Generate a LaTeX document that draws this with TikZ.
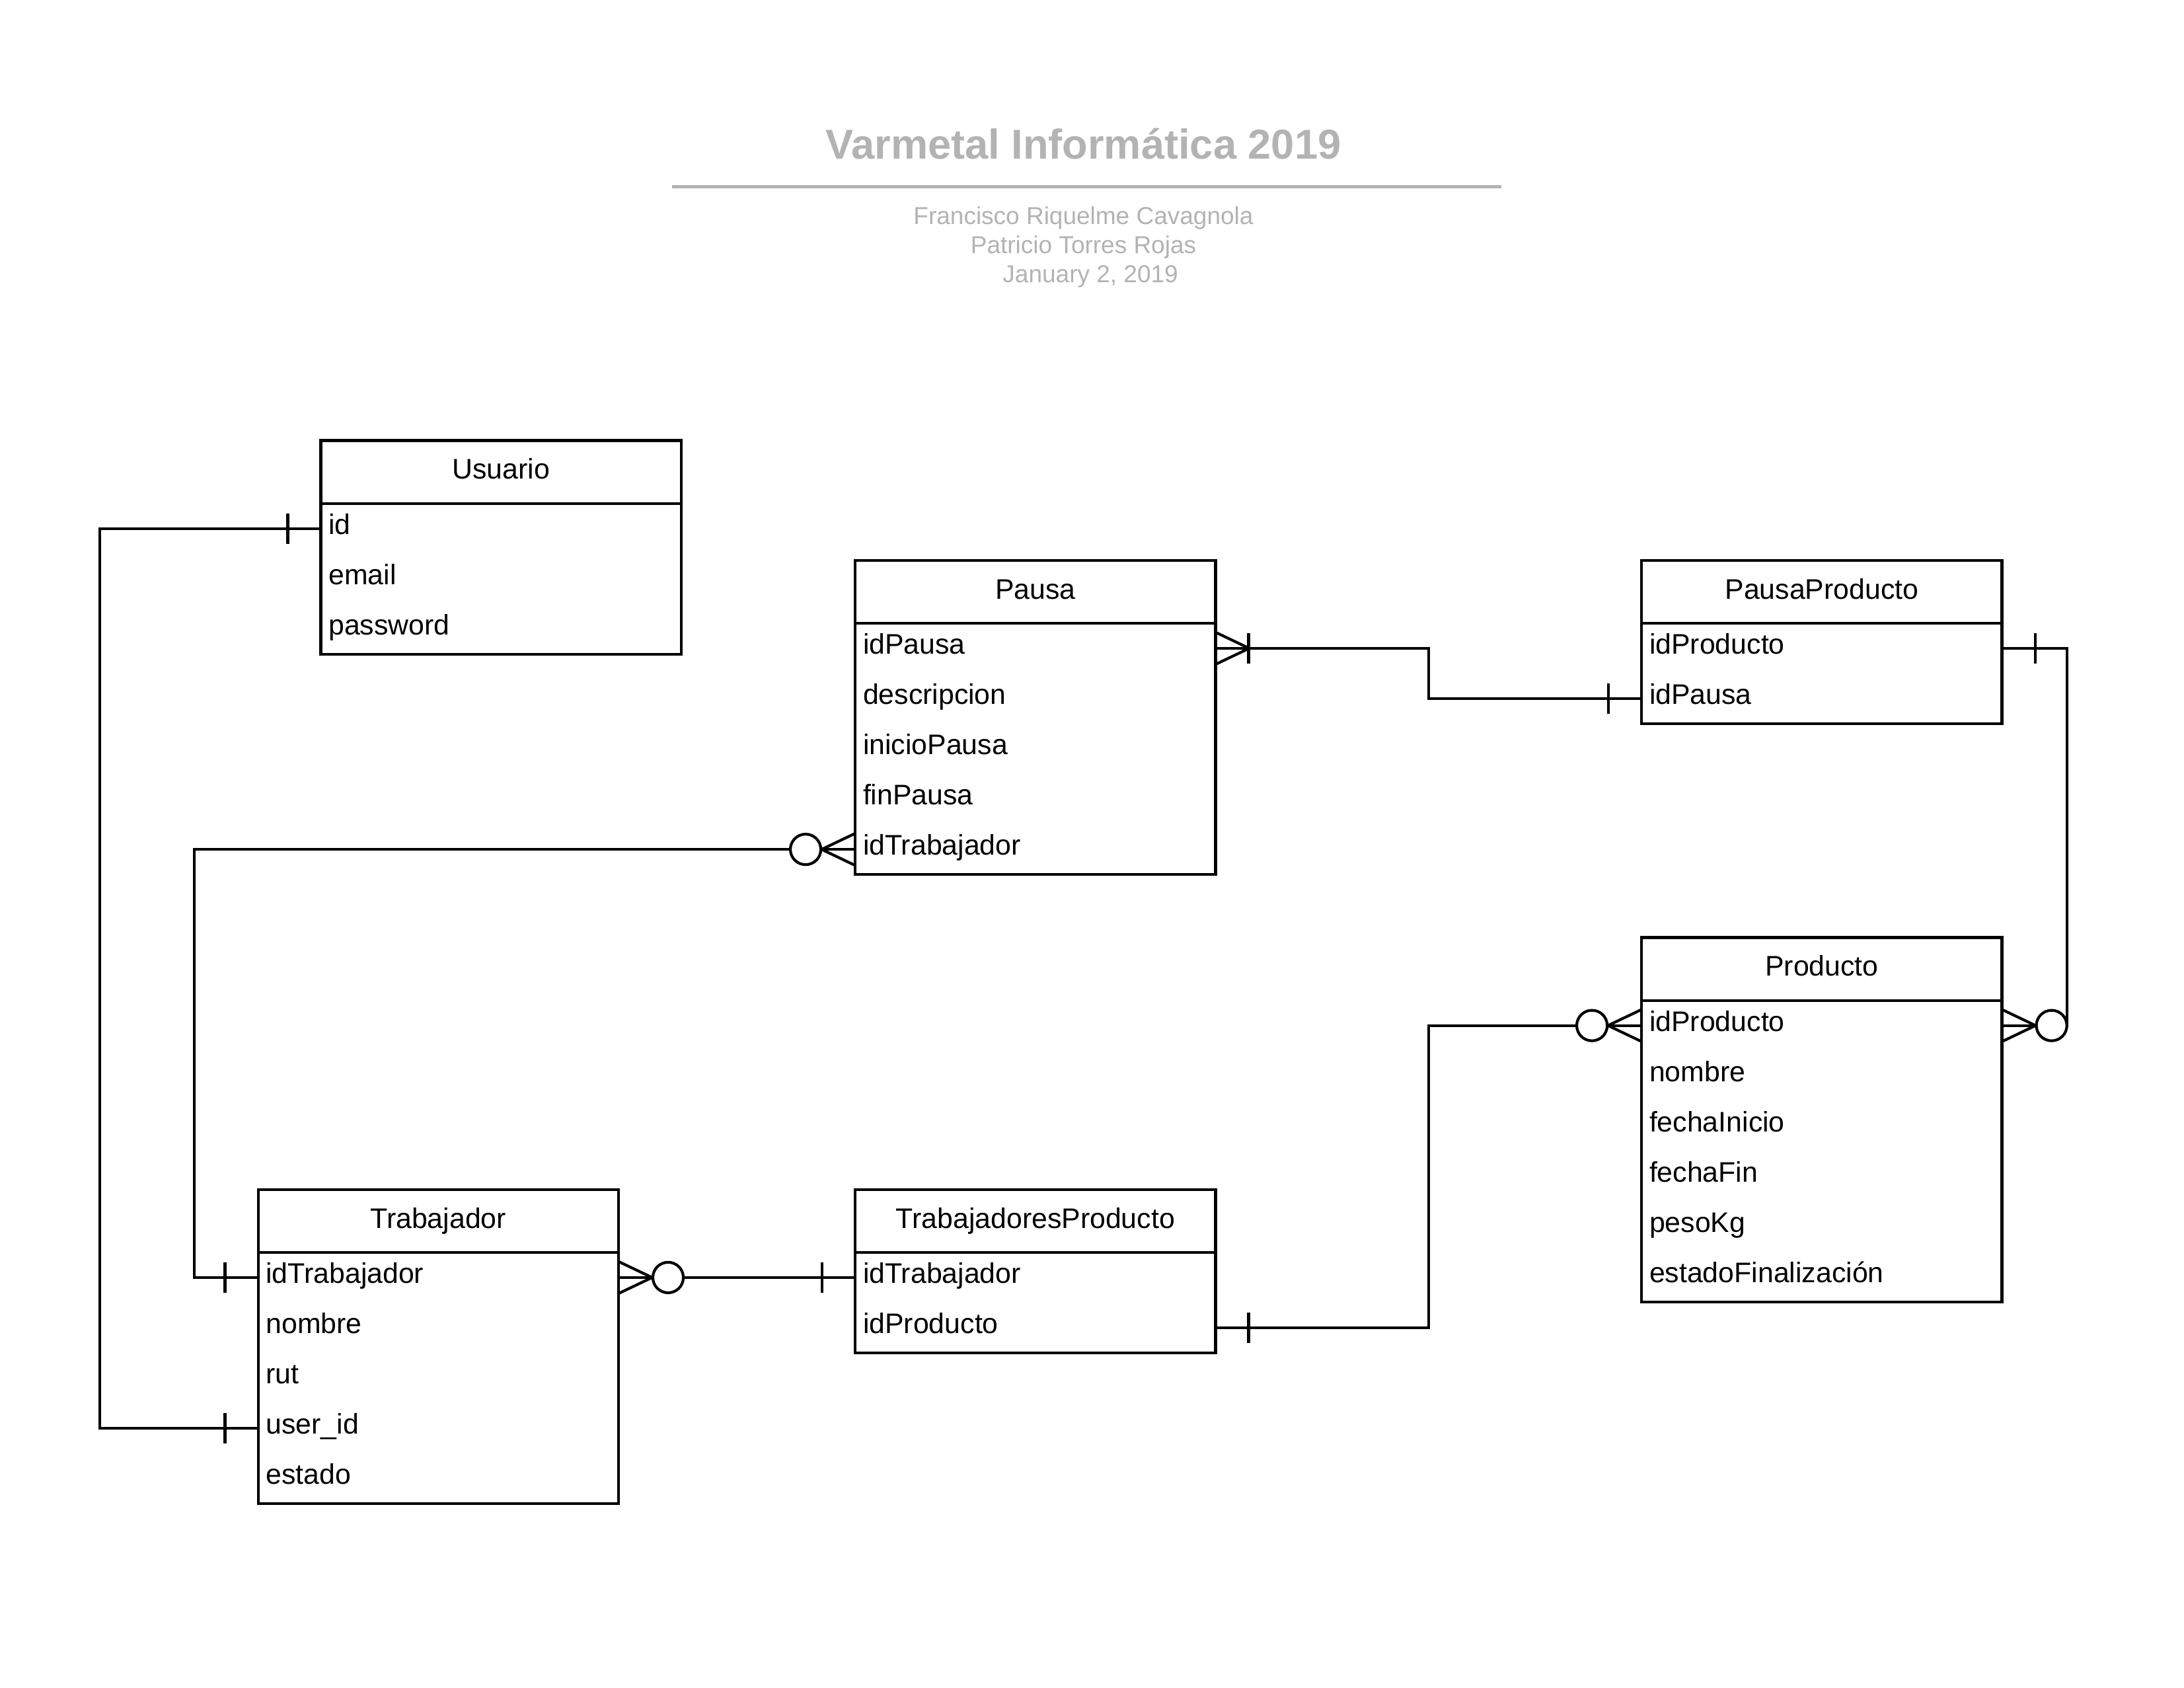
\documentclass[tikz,border=0pt]{standalone}
\usepackage{fontspec}
\setmainfont{Liberation Sans}
\usetikzlibrary{calc}

\definecolor{titlegray}{RGB}{179,179,179}

\tikzset{
    entity/.style={draw, line width=1pt, anchor=north west, minimum width=4.61cm,
        minimum height=0.805cm, inner sep=0pt, outer sep=0pt, text height=7.4pt, text depth=2.2pt,
        font=\fontsize{10.3}{12}\selectfont},
    attr/.style={anchor=north west, text width=4.41cm, align=left, inner xsep=0.1cm,
        inner ysep=0pt, outer sep=0pt, minimum height=0.643cm, text height=7pt, text depth=2.8pt,
        font=\fontsize{10.3}{12}\selectfont},
    rel/.style={line width=1pt},
    pics/one/.style={code={\draw[rel] (0.423,-0.195) -- (0.423,0.195);}},
    pics/onemany/.style={code={
        \draw[rel] (0,0.205) -- (0.43,0) -- (0,-0.205);
        \draw[rel] (0.423,-0.195) -- (0.423,0.195);}},
    pics/zeromany/.style={code={
        \draw[rel] (0,0.205) -- (0.43,0) -- (0,-0.205);
        \draw[rel, fill=white] (0.635,0) circle (0.195);}}
}

\begin{document}
\begin{tikzpicture}

        \useasboundingbox (0,0) rectangle (27.94,-21.59);

        % TITLE
        \node[font=\fontsize{15.2}{18}\selectfont\bfseries, text=titlegray] (title) at (13.86,-1.842) {Varmetal Informática 2019};
        \coordinate (ruleL) at (8.597,-2.388);
        \coordinate (ruleR) at (19.21,-2.388);
        \draw[titlegray, line width=1.2pt] (ruleL) -- (ruleR);
        \node[font=\fontsize{8.9}{10.7}\selectfont, text=titlegray] (author1) at (13.86,-2.786) {Francisco Riquelme Cavagnola};
        \node[font=\fontsize{8.9}{10.7}\selectfont, text=titlegray] (author2) at (13.86,-3.16) {Patricio Torres Rojas};
        \node[font=\fontsize{8.9}{10.7}\selectfont, text=titlegray] (date) at (13.95,-3.534) {January 2, 2019};

        % USUARIO
        \node[entity] (usr) at (4.104,-5.635) {Usuario};
        \node[attr] (usr-id) at (usr.south west) {id};
        \node[attr] (usr-email) at (usr-id.south west) {email};
        \node[attr] (usr-password) at (usr-email.south west) {password};
        \draw[rel] (usr.south west) rectangle (usr-password.south east);

        % PAUSA
        \node[entity] (pau) at (10.941,-7.166) {Pausa};
        \node[attr] (pau-idPausa) at (pau.south west) {idPausa};
        \node[attr] (pau-descripcion) at (pau-idPausa.south west) {descripcion};
        \node[attr] (pau-inicioPausa) at (pau-descripcion.south west) {inicioPausa};
        \node[attr] (pau-finPausa) at (pau-inicioPausa.south west) {finPausa};
        \node[attr] (pau-idTrabajador) at (pau-finPausa.south west) {idTrabajador};
        \draw[rel] (pau.south west) rectangle (pau-idTrabajador.south east);

        % PAUSAPRODUCTO
        \node[entity] (pp) at (21.001,-7.166) {PausaProducto};
        \node[attr] (pp-idProducto) at (pp.south west) {idProducto};
        \node[attr] (pp-idPausa) at (pp-idProducto.south west) {idPausa};
        \draw[rel] (pp.south west) rectangle (pp-idPausa.south east);

        % PRODUCTO
        \node[entity] (pro) at (21.001,-11.991) {Producto};
        \node[attr] (pro-idProducto) at (pro.south west) {idProducto};
        \node[attr] (pro-nombre) at (pro-idProducto.south west) {nombre};
        \node[attr] (pro-fechaInicio) at (pro-nombre.south west) {fechaInicio};
        \node[attr] (pro-fechaFin) at (pro-fechaInicio.south west) {fechaFin};
        \node[attr] (pro-pesoKg) at (pro-fechaFin.south west) {pesoKg};
        \node[attr] (pro-estado) at (pro-pesoKg.south west) {estadoFinalización};
        \draw[rel] (pro.south west) rectangle (pro-estado.south east);

        % TRABAJADOR
        \node[entity] (tra) at (3.302,-15.214) {Trabajador};
        \node[attr] (tra-idTrabajador) at (tra.south west) {idTrabajador};
        \node[attr] (tra-nombre) at (tra-idTrabajador.south west) {nombre};
        \node[attr] (tra-rut) at (tra-nombre.south west) {rut};
        \node[attr] (tra-userid) at (tra-rut.south west) {user\_id};
        \node[attr] (tra-estado) at (tra-userid.south west) {estado};
        \draw[rel] (tra.south west) rectangle (tra-estado.south east);

        % TRABAJADORESPRODUCTO
        \node[entity] (tp) at (10.941,-15.214) {TrabajadoresProducto};
        \node[attr] (tp-idTrabajador) at (tp.south west) {idTrabajador};
        \node[attr] (tp-idProducto) at (tp-idTrabajador.south west) {idProducto};
        \draw[rel] (tp.south west) rectangle (tp-idProducto.south east);

        % ROUTING
        \coordinate (outerX) at (1.273,0);
        \coordinate (innerX) at (2.483,0);
        \coordinate (midX) at (18.276,0);
        \coordinate (rightX) at (26.443,0);

        % USUARIO - TRABAJADOR
        \draw[rel] (usr-id.west) -- (usr-id.west -| outerX) |- (tra-userid.west);
        \pic[rotate=180] at (usr-id.west) {one};
        \pic[rotate=180] at (tra-userid.west) {one};

        % PAUSA - TRABAJADOR
        \draw[rel] (pau-idTrabajador.west) -- (pau-idTrabajador.west -| innerX) |- (tra-idTrabajador.west);
        \pic[rotate=180] at (pau-idTrabajador.west) {zeromany};
        \pic[rotate=180] at (tra-idTrabajador.west) {one};

        % PAUSA - PAUSAPRODUCTO
        \draw[rel] (pau-idPausa.east) -- (pau-idPausa.east -| midX) |- (pp-idPausa.west);
        \pic at (pau-idPausa.east) {onemany};
        \pic[rotate=180] at (pp-idPausa.west) {one};

        % PAUSAPRODUCTO - PRODUCTO
        \draw[rel] (pp-idProducto.east) -- (pp-idProducto.east -| rightX) |- (pro-idProducto.east);
        \pic at (pp-idProducto.east) {one};
        \pic at (pro-idProducto.east) {zeromany};

        % TRABAJADOR - TRABAJADORESPRODUCTO
        \draw[rel] (tra-idTrabajador.east) -- (tp-idTrabajador.west);
        \pic at (tra-idTrabajador.east) {zeromany};
        \pic[rotate=180] at (tp-idTrabajador.west) {one};

        % TRABAJADORESPRODUCTO - PRODUCTO
        \draw[rel] (tp-idProducto.east) -- (tp-idProducto.east -| midX) |- (pro-idProducto.west);
        \pic at (tp-idProducto.east) {one};
        \pic[rotate=180] at (pro-idProducto.west) {zeromany};

\end{tikzpicture}
\end{document}
